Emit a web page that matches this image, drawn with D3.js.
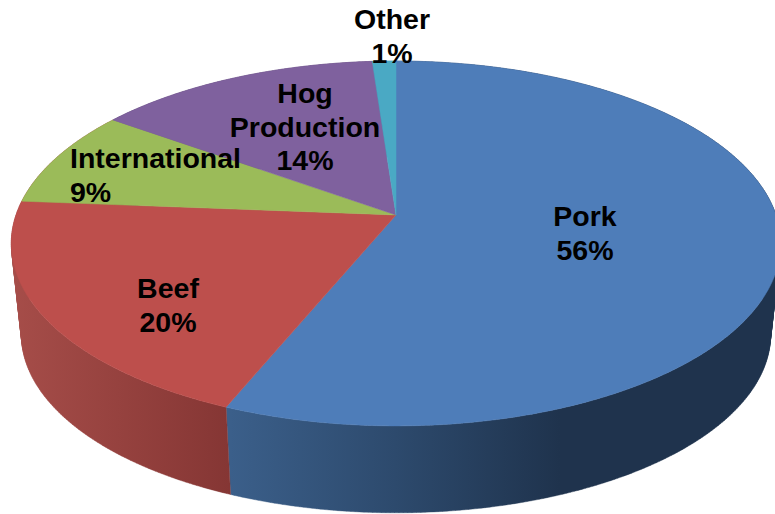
<!DOCTYPE html>
<html>
<head>
<meta charset="utf-8">
<script src="https://cdn.jsdelivr.net/npm/d3@7"></script>
<style>
html,body{margin:0;padding:0;background:#fff;overflow:hidden}
svg{display:block}
text{font-family:"Liberation Sans",Arial,sans-serif;font-weight:700;fill:#000}
</style>
</head>
<body>
<script>
// Data
const categories = ["Pork", "Beef", "International", "Hog Production", "Other"];
const shares = [56.25, 20.0, 8.65, 13.95, 1.15];
const labelLines = [["Pork"], ["Beef"], ["International"], ["Hog", "Production"], ["Other"]];
const topColors = ["#4E7DB9", "#BD4F4C", "#9BBB59", "#7F619E", "#4AA9C4"];

// Layout (separate from the data)
const width = 775, height = 514;
const tilt = 0.156;
const rimTop = {cx: 396, cy: 215, a: 380, b: 178};
const rimBottom = {cx: 396, cy: 307, a: 370, b: 173.7};
const fontSize = 28.5, lineGap = 33.6;
const labelAnchors = [
  {x: 585, y: 226, anchor: "middle"},
  {x: 168, y: 298, anchor: "middle"},
  {x: 70, y: 168, anchor: "start"},
  {x: 305, y: 103, anchor: "middle"},
  {x: 392, y: 29, anchor: "middle"}
];

const svg = d3.select("body").append("svg").attr("width", width).attr("height", height);
const defs = svg.append("defs");

function wallGradient(id, x1, x2, stops) {
  const g = defs.append("linearGradient").attr("id", id)
    .attr("gradientUnits", "userSpaceOnUse")
    .attr("x1", x1).attr("x2", x2).attr("y1", 0).attr("y2", 0);
  stops.forEach(s => g.append("stop").attr("offset", s[0]).attr("stop-color", s[1]));
  return `url(#${id})`;
}
const wallFills = [
  wallGradient("w0", 230, 560, [[0, "#3B5F8A"], [0.5, "#2D4A6D"], [1, "#1F334D"]]),
  wallGradient("w1", 12, 230, [[0, "#A64D49"], [1, "#853634"]]),
  "#A64D49", "#5a4570", "#2f7a8e"
];

// Perspective projection of a point on the unit disc
function project(rim, angle, r = 1) {
  const u = r * Math.sin(angle), v = -r * Math.cos(angle);
  const d = 1 - tilt * v;
  return [rim.cx + rim.a * u / d, rim.cy + rim.b * v / d];
}
function rimAngles(a0, a1) {
  const n = Math.max(2, Math.ceil((a1 - a0) / 0.01));
  return d3.range(n + 1).map(i => a0 + (a1 - a0) * i / n);
}
function rimPoints(rim, a0, a1) {
  return rimAngles(a0, a1).map(a => project(rim, a));
}

const slices = d3.pie().sort(null).value(d => d)(shares);
const line = d3.line();

// Side wall as small quads with one winding, so nothing cancels where the wall
// folds at the widest point; the top surface hides whatever lies behind it
function wallPath(d) {
  const as = rimAngles(d.startAngle, d.endAngle);
  return d3.pairs(as).map(([p, q]) => {
    const quad = [project(rimTop, p), project(rimTop, q), project(rimBottom, q), project(rimBottom, p)];
    if (d3.polygonArea(quad) < 0) quad.reverse();
    return line(quad) + "Z";
  }).join("");
}
svg.append("g").selectAll("path").data(slices).join("path")
  .attr("d", wallPath)
  .attr("fill", (d, i) => wallFills[i])
  .attr("stroke", (d, i) => wallFills[i])
  .attr("stroke-width", 0.4);

svg.append("g").selectAll("path").data(slices).join("path")
  .attr("d", d => line([project(rimTop, 0, 0)].concat(rimPoints(rimTop, d.startAngle, d.endAngle))) + "Z")
  .attr("fill", (d, i) => topColors[i])
  .attr("stroke", (d, i) => topColors[i])
  .attr("stroke-width", 0.5);

// Labels
const fmt = d3.format(".0f");
const labels = svg.append("g").attr("font-size", fontSize);
slices.forEach((d, i) => {
  const lines = labelLines[i].concat(fmt(shares[i]) + "%");
  const p = labelAnchors[i];
  const t = labels.append("text").attr("text-anchor", p.anchor).attr("y", p.y);
  lines.forEach((s, k) => t.append("tspan").attr("x", p.x).attr("y", p.y + k * lineGap).text(s));
});
</script>
</body>
</html>
